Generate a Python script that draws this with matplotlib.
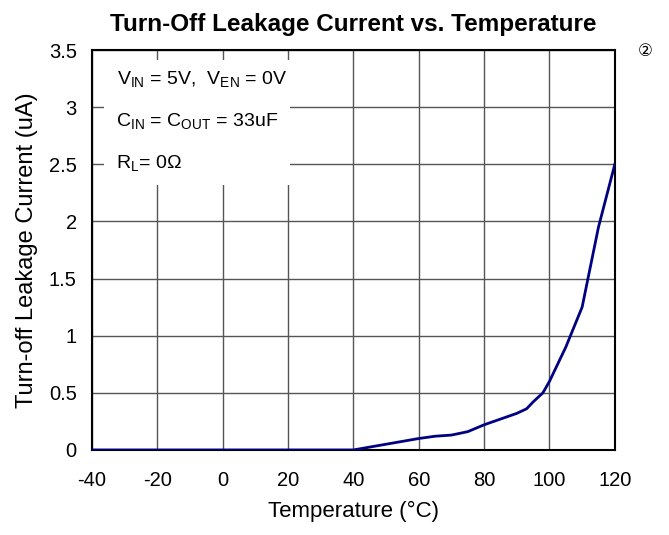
import matplotlib
matplotlib.use('Agg')
import matplotlib.pyplot as plt
from matplotlib.patches import Rectangle

plt.rcParams['font.family'] = ['Liberation Sans', 'DejaVu Sans']
plt.rcParams['mathtext.fontset'] = 'custom'
plt.rcParams['mathtext.rm'] = 'Liberation Sans'
plt.rcParams['axes.unicode_minus'] = False

# donnees
temps = [-40, -20, 0, 20, 40, 50, 60, 65, 70, 75, 80, 85, 90, 93, 95, 98, 100, 105, 110, 115, 120]
leak = [0, 0, 0, 0, 0, 0.05, 0.1, 0.12, 0.13, 0.16, 0.22, 0.27, 0.32, 0.36, 0.42, 0.5, 0.6, 0.9, 1.25, 1.95, 2.5]
xticks = [-40, -20, 0, 20, 40, 60, 80, 100, 120]
yticks = [0, 0.5, 1, 1.5, 2, 2.5, 3, 3.5]
ytick_labels = ['0', '0.5', '1', '1.5', '2', '2.5', '3', '3.5']

fig = plt.figure(figsize=(6.69, 5.35), dpi=100)
ax = fig.add_axes([0.1375, 0.159, 0.7815, 0.7475])

ax.plot(temps, leak, color='#000080', lw=2, zorder=3)
ax.set_xlim(-40, 120)
ax.set_ylim(0, 3.5)
ax.set_xticks(xticks)
ax.set_yticks(yticks)
ax.set_yticklabels(ytick_labels)
ax.tick_params(length=0, labelsize=14.5)
ax.tick_params(axis='x', pad=15)
ax.tick_params(axis='y', pad=11)
ax.grid(True, color='#555555', lw=1)
for s in ax.spines.values():
    s.set_linewidth(1.5)

# boite blanche qui cache la grille (on laisse des bouts de grille au bord)
ax.add_patch(Rectangle((-36.3, 2.32), 56.8, 1.09, facecolor='white', edgecolor='none', zorder=2))
ax.text(-32.4, 3.24, r'V$_{\mathregular{IN}}$ = 5V,  V$_{\mathregular{EN}}$ = 0V', fontsize=14, zorder=4, va='center')
ax.text(-32.8, 2.87, r'C$_{\mathregular{IN}}$ = C$_{\mathregular{OUT}}$ = 33uF', fontsize=14, zorder=4, va='center')
ax.text(-32.8, 2.50, r'R$_{\mathregular{L}}$= 0$\Omega$', fontsize=14, zorder=4, va='center')

ax.set_title('Turn-Off Leakage Current vs. Temperature', fontsize=17.5, fontweight='bold', pad=14)
ax.set_ylabel('Turn-off Leakage Current (uA)', fontsize=17, labelpad=8)
ax.set_xlabel('Temperature (°C)', fontsize=16, labelpad=8)
fig.text(0.964, 0.903, '②', fontsize=12, ha='center', va='center')

fig.savefig('out.png', dpi=100)
